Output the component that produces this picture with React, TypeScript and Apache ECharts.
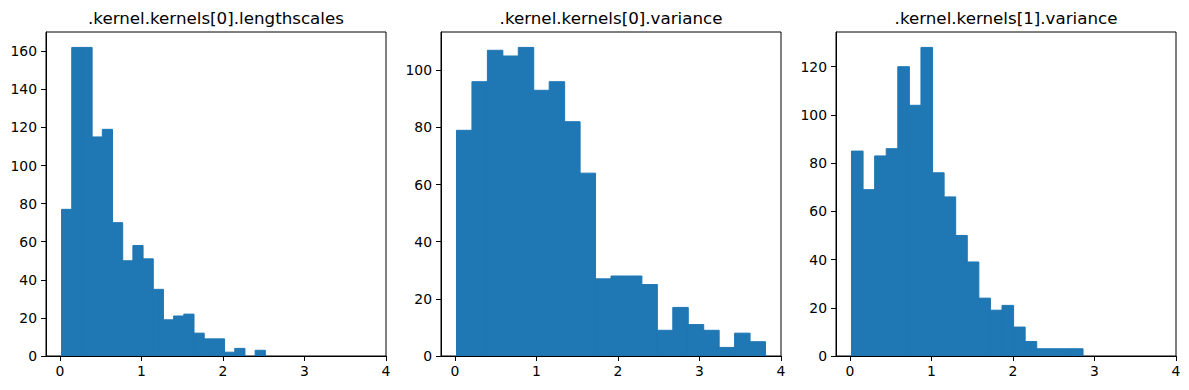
import React, { useEffect, useRef } from "react";
import * as echarts from "echarts";

// ---- data ----
const titles = [
  ".kernel.kernels[0].lengthscales",
  ".kernel.kernels[0].variance",
  ".kernel.kernels[1].variance",
];

// histogram counts (20 bins each)
const countsLengthscales = [77, 162, 162, 115, 119, 70, 50, 58, 51, 35, 19, 21, 22, 12, 9, 9, 2, 4, 0, 3];
const countsVariance0 = [79, 96, 107, 105, 108, 93, 96, 82, 64, 27, 28, 28, 25, 9, 17, 11, 9, 3, 8, 5];
const countsVariance1 = [85, 69, 83, 86, 120, 104, 128, 76, 66, 50, 39, 24, 19, 21, 12, 6, 3, 3, 3, 3];

// bin range [first edge, last edge] of each histogram
const rangeLengthscales = [0.021, 2.52];
const rangeVariance0 = [0.02, 3.81];
const rangeVariance1 = [0.02, 2.86];

const xTicks = [0, 1, 2, 3, 4];
const yTicks1 = [0, 20, 40, 60, 80, 100, 120, 140, 160];
const yTicks2 = [0, 20, 40, 60, 80, 100];
const yTicks3 = [0, 20, 40, 60, 80, 100, 120];

const xMin = -0.17;
const xMax = 4.0;

const BAR = "#1f77b4";
const FONT = "DejaVu Sans";

function binsOf(counts: number[], range: number[]) {
  const n = counts.length;
  const w = (range[1] - range[0]) / n;
  return counts.map((c, i) => [range[0] + i * w, range[0] + (i + 1) * w, c]);
}

export default function App() {
  const ref = useRef<HTMLDivElement>(null);
  useEffect(() => {
    if (!ref.current) return;
    const chart = echarts.init(ref.current, undefined, { renderer: "svg" });
    const panels = [
      { counts: countsLengthscales, range: rangeLengthscales, yTicks: yTicks1 },
      { counts: countsVariance0, range: rangeVariance0, yTicks: yTicks2 },
      { counts: countsVariance1, range: rangeVariance1, yTicks: yTicks3 },
    ];
    const lefts = [46, 441, 836];
    const W = 340;
    const top = 32;
    const H = 324;

    const grids: any[] = [];
    const xAxes: any[] = [];
    const yAxes: any[] = [];
    const series: any[] = [];
    const titleArr: any[] = [];

    panels.forEach((p, i) => {
      const yMax = Math.max(...p.counts) * 1.05;
      grids.push({
        left: lefts[i],
        top,
        width: W,
        height: H,
        show: true,
        borderColor: "#000",
        borderWidth: 1,
        backgroundColor: "transparent",
        containLabel: false,
      });
      xAxes.push({
        type: "value",
        gridIndex: i,
        min: xMin,
        max: xMax,
        z: 10,
        splitLine: { show: false },
        axisLine: { show: true, onZero: false, lineStyle: { color: "#000", width: 1 } },
        axisTick: { show: true, length: 5, customValues: xTicks, lineStyle: { color: "#000", width: 1 } },
        axisLabel: {
          customValues: xTicks,
          color: "#000",
          fontFamily: FONT,
          fontSize: 13.9,
          margin: 8,
          formatter: (v: number) => String(v),
        },
      });
      yAxes.push({
        type: "value",
        gridIndex: i,
        min: 0,
        max: yMax,
        z: 10,
        splitLine: { show: false },
        axisLine: { show: true, onZero: false, lineStyle: { color: "#000", width: 1 } },
        axisTick: { show: true, length: 5, customValues: p.yTicks, lineStyle: { color: "#000", width: 1 } },
        axisLabel: {
          customValues: p.yTicks,
          color: "#000",
          fontFamily: FONT,
          fontSize: 13.9,
          margin: 9,
          formatter: (v: number) => String(v),
        },
      });
      series.push({
        type: "custom",
        xAxisIndex: i,
        yAxisIndex: i,
        data: binsOf(p.counts, p.range),
        encode: { x: [0, 1], y: 2 },
        renderItem: (_params: any, api: any) => {
          const lo = api.value(0);
          const hi = api.value(1);
          const c = api.value(2);
          const p0 = api.coord([lo, 0]);
          const p1 = api.coord([hi, c]);
          return {
            type: "rect",
            shape: { x: p0[0], y: p1[1], width: p1[0] - p0[0], height: p0[1] - p1[1] },
            style: { fill: BAR, stroke: c > 0 ? BAR : "none", lineWidth: 1 },
          };
        },
      });
      titleArr.push({
        text: titles[i],
        left: lefts[i] + W / 2,
        top: 9,
        padding: 0,
        textAlign: "center",
        textStyle: { color: "#000", fontFamily: FONT, fontSize: 16.7, fontWeight: "normal" },
      });
    });

    chart.setOption({
      animation: false,
      backgroundColor: "#fff",
      title: titleArr,
      grid: grids,
      xAxis: xAxes,
      yAxis: yAxes,
      series,
    });
    return () => chart.dispose();
  }, []);
  return (
    <div
      ref={ref}
      style={{ position: "fixed", left: 0, top: 0, width: 1189, height: 390, background: "#fff" }}
    />
  );
}
